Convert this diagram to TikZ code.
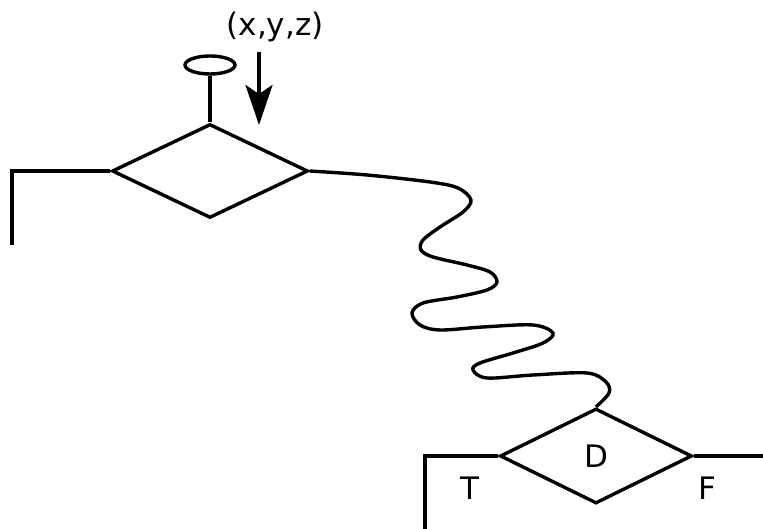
\documentclass[tikz,border=0pt]{standalone}
\usepackage{fontspec}
\newfontfamily\plotfont{DejaVu Sans}
\usetikzlibrary{shapes.geometric, arrows.meta}

\begin{document}
\begin{tikzpicture}[x=1pt, y=1pt, line width=3.4pt,
    every node/.style={font=\plotfont\fontsize{31}{36}\selectfont},
    decision/.style={diamond, draw, inner sep=0pt, minimum width=196pt, minimum height=94pt},
    terminal/.style={ellipse, draw, inner sep=0pt, minimum width=50pt, minimum height=18pt}]
    \useasboundingbox (0, 0) rectangle (763, 529);
    % upper test with its flag and input
    \node[decision] (upper) at (210, 358) {};
    \node[terminal] (flag) at (210, 464) {};
    \draw (flag.south) -- (upper.north);
    \node (xyz) at (275, 502) {(x,y,z)};
    \coordinate (intop) at (259, 477);
    \coordinate (inend) at (259, 404);
    \draw[-{Stealth[length=40pt, width=27pt, inset=9pt]}] (intop) -- (inend);
    \coordinate (upleft) at (12, 358);
    \coordinate (updown) at (12, 284);
    \draw (upper.west) -- (upleft) -- (updown);
    % lower test D
    \node[decision, minimum width=192pt, minimum height=95pt] (lower) at (596, 73) {D};
    \coordinate (loleft) at (425, 73);
    \coordinate (lodown) at (425, 0);
    \coordinate (loright) at (763, 73);
    \draw (lower.west) -- (loleft) -- (lodown);
    \draw (lower.east) -- (loright);
    \node (t) at (470, 41) {T};
    \node (f) at (707, 41) {F};
    % wavy link between the tests
    \draw plot[smooth, tension=0.55] coordinates {(upper.east) (367, 354) (430, 347) (458, 341)
        (471, 329) (463, 317) (440, 302) (423, 289) (421, 279) (433, 272) (467, 264)
        (490, 257) (497, 247) (487, 239) (457, 232) (423, 226) (412, 216) (420, 204)
        (440, 199) (483, 202) (533, 204) (553, 196) (543, 186) (513, 176) (480, 166)
        (473, 159) (487, 151) (533, 154) (587, 156) (606, 147) (609, 136) (lower.north)};
\end{tikzpicture}
\end{document}
